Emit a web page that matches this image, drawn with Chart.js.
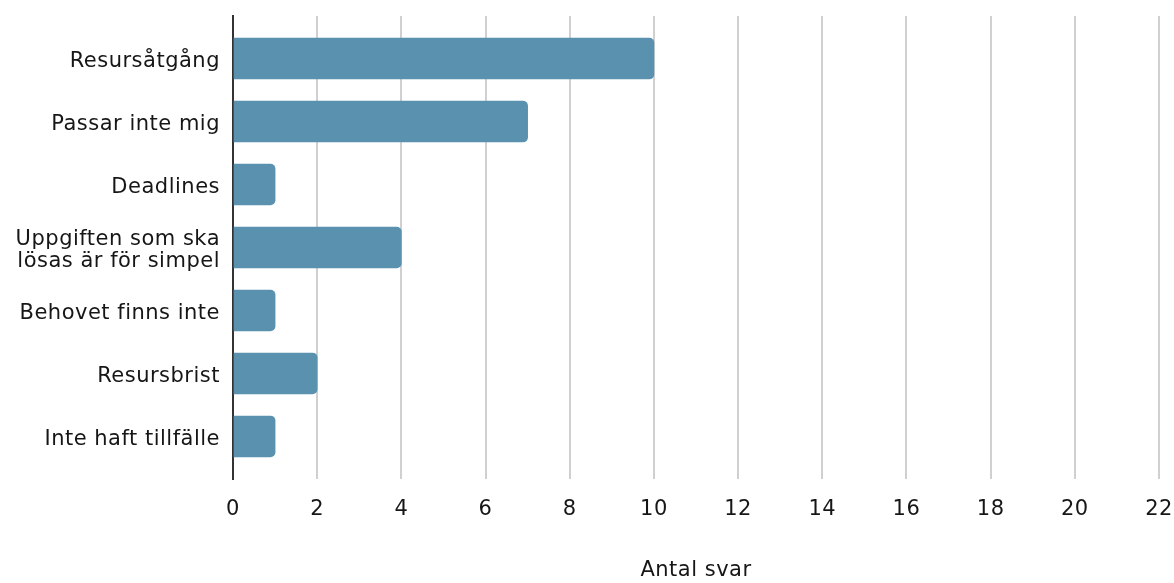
<!DOCTYPE html>
<html>
<head>
<meta charset="utf-8">
<script src="https://cdn.jsdelivr.net/npm/chart.js@4"></script>
<style>
  html, body { margin: 0; padding: 0; background: #fff; overflow: hidden; }
  #wrap { width: 1174px; height: 583px; }
</style>
</head>
<body>
<div id="wrap"><canvas id="grafico"></canvas></div>
<script>
const kategorier = [
  'Resursåtgång',
  'Passar inte mig',
  'Deadlines',
  ['Uppgiften som ska', 'lösas är för simpel'],
  'Behovet finns inte',
  'Resursbrist',
  'Inte haft tillfälle'
];
const antalSvar = [10, 7, 1, 4, 1, 2, 1];
const xTicks = [0, 2, 4, 6, 8, 10, 12, 14, 16, 18, 20, 22];

const font = { family: '"DejaVu Sans", sans-serif', size: 21, lineHeight: 1.02 };

// lite bredare text, canvas nollställer letterSpacing vid storleksändring
const sparring = {
  id: 'sparring',
  beforeLayout: chart => { chart.ctx.letterSpacing = '0.5px'; },
  beforeDraw: chart => { chart.ctx.letterSpacing = '0.5px'; }
};

const ctx = document.getElementById('grafico').getContext('2d');
new Chart(ctx, {
  type: 'bar',
  data: {
    datasets: [{
      label: 'Antal svar',
      data: antalSvar.map((v, i) => ({ x: v, y: i })),
      backgroundColor: '#5991ae',
      borderRadius: 5,
      barThickness: 41
    }]
  },
  plugins: [sparring],
  options: {
    indexAxis: 'y',
    responsive: true,
    maintainAspectRatio: false,
    animation: false,
    layout: { padding: { top: 16, right: 15 } },
    plugins: {
      legend: { display: false },
      tooltip: { enabled: false }
    },
    scales: {
      x: {
        type: 'linear',
        min: 0,
        max: 22,
        afterBuildTicks: scale => { scale.ticks = xTicks.map(v => ({ value: v })); },
        afterFit: scale => {
          scale.height = 104;
          scale.paddingLeft = 0;
          scale.paddingRight = 0;
        },
        grid: { color: '#d0d0d0', lineWidth: 2, drawTicks: false },
        border: { display: false },
        ticks: { color: '#161616', font: font, padding: 20 },
        title: {
          display: true,
          text: 'Antal svar',
          color: '#161616',
          font: font,
          padding: { top: 0, bottom: 2 }
        }
      },
      y: {
        type: 'linear',
        bounds: 'data',
        offset: false,
        reverse: true,
        min: -0.675,
        max: 6.675,
        afterBuildTicks: scale => { scale.ticks = kategorier.map((_, i) => ({ value: i })); },
        afterFit: scale => {
          scale.width = 233;
          scale.paddingTop = 0;
          scale.paddingBottom = 0;
        },
        grid: { display: false, drawTicks: false },
        border: { display: true, color: '#333', width: 2 },
        ticks: {
          color: '#161616',
          font: font,
          padding: 13,
          labelOffset: 3,
          callback: value => kategorier[value]
        }
      }
    }
  }
});
</script>
</body>
</html>
